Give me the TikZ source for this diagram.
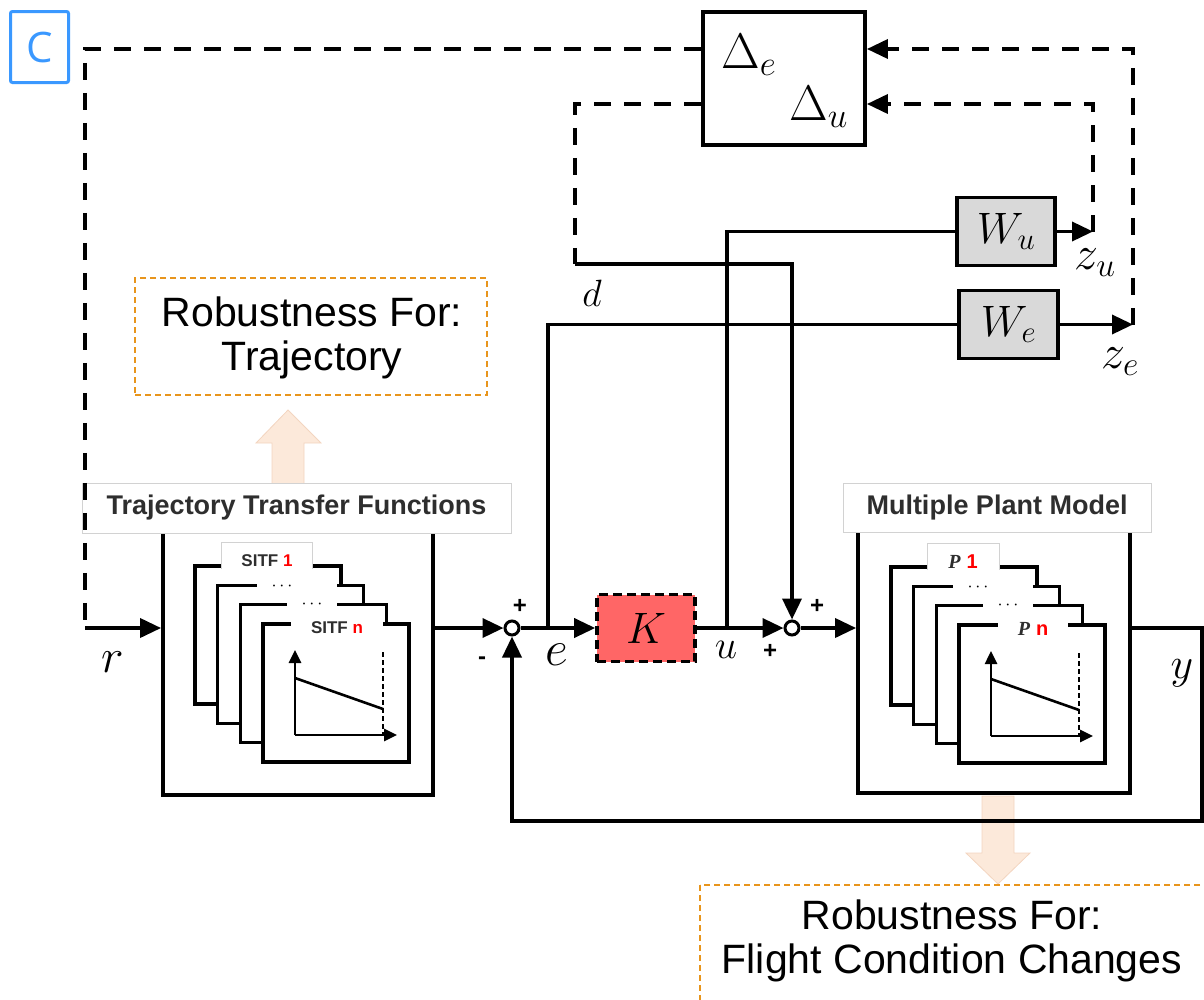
\RequirePackage{fix-cm}
\documentclass[tikz,border=0pt]{standalone}
\usepackage[no-math]{fontspec}
\newfontfamily\arialf{Liberation Sans}
\newfontfamily\timesf{Liberation Serif}
\newfontfamily\opensf{Open Sans}
\usetikzlibrary{arrows.meta}

\definecolor{cblue}{HTML}{3A98FF}
\definecolor{kred}{HTML}{FF6666}
\definecolor{wfill}{HTML}{D9D9D9}
\definecolor{robor}{HTML}{E8951C}
\definecolor{peach}{HTML}{FCE9DA}
\definecolor{peachline}{HTML}{F3D5C0}
\definecolor{txtgray}{HTML}{2E2E2E}
\definecolor{tred}{HTML}{FF0000}

\tikzset{
  sig/.style={line width=3.6pt},
  arr/.style={-{Triangle[length=21pt,width=19pt]}},
  dsh/.style={line width=3.6pt,dash pattern=on 17pt off 13pt},
  blk/.style={draw,line width=3.8pt,inner sep=0pt},
  wbox/.style={blk,fill=wfill,minimum width=98pt,minimum height=68pt,font=\fontsize{44}{44}\selectfont},
  sumpt/.style={circle,draw,fill=white,line width=3pt,minimum size=14pt,inner sep=0pt},
  stk/.style={draw,fill=white,line width=3.3pt},
  plt/.style={line width=2.6pt},
  ptip/.style={-{Triangle[length=13pt,width=12pt]}},
  rob/.style={draw=robor,line width=2.2pt,dash pattern=on 6pt off 4pt},
  robtxt/.style={align=center,inner sep=0pt,font=\arialf\fontsize{41}{44}\selectfont},
  ttl/.style={draw=gray!35,line width=1pt,fill=white,inner sep=0pt,
    font=\arialf\bfseries\fontsize{27}{27}\selectfont,text=txtgray},
  tab/.style={inner sep=0pt,text=txtgray,font=\fontsize{17}{17}\selectfont},
  tabn/.style={fill=white,inner xsep=20pt,minimum height=20pt,text=txtgray,font=\fontsize{17}{17}\selectfont},
  dotlab/.style={inner sep=0pt,font=\fontsize{18}{18}\selectfont},
  sgn/.style={inner sep=0pt,font=\arialf\bfseries\fontsize{24}{24}\selectfont},
  mlab/.style={inner sep=0pt},
}

% a stack of four overlapping model cards with a small plot on the front card
% #1,#2: top-left corner of the rear card; #3: half width of its tab;
% #4: tab text of the rear card; #5: tab text of the front card
\newcommand\drawstack[5]{%
  \begin{scope}[shift={(#1,#2)}]
    \draw[stk] (0,0) rectangle (146,138);
    \fill[white] (72-#3,-24) rectangle (72+#3,4);
    \draw[gray!35,line width=0.9pt] (72-#3,3) |- (72+#3,-24) -- (72+#3,3);
    \node[tab] at (72,-5) {#4};
    \draw[stk] (22.7,19.3) rectangle +(146,138);
    \fill[white] (62,14) rectangle (142,25);
    \node[dotlab] at (87,20) {$\cdots$};
    \draw[stk] (45.4,38.6) rectangle +(146,138);
    \fill[white] (92,33) rectangle (142,44);
    \node[dotlab] at (117,38) {$\cdots$};
    \draw[stk] (68,58) rectangle +(146,138);
    \node[tabn] at (142,62) {#5};
    \draw[plt,ptip] (100,169) -- (100,84);
    \draw[plt,ptip] (100,169) -- (202,169);
    \draw[plt] (100,112) -- (188,143);
    \draw[line width=2.2pt,dash pattern=on 5pt off 3pt] (188,86) -- (188,169);
  \end{scope}}

\begin{document}
\begin{tikzpicture}[x=1pt,y=-1pt]
\useasboundingbox (0,0) rectangle (1204,999);

% corner tag
\node[draw=cblue,line width=3pt,rounded corners=2pt,minimum width=58pt,minimum height=71pt,
  inner sep=0pt,text=cblue,font=\opensf\fontsize{42}{42}\selectfont] (tag) at (39.5,47) {C};

% wide arrows pointing to the robustness notes
\filldraw[fill=peach,draw=peachline,line width=0.8pt]
  (272,490) -- (272,443) -- (256,443) -- (288,410) -- (321,443) -- (304,443) -- (304,490) -- cycle;
\filldraw[fill=peach,draw=peachline,line width=0.8pt]
  (982,796) -- (982,853) -- (966,853) -- (998,884) -- (1030,853) -- (1014,853) -- (1014,796) -- cycle;

% robustness notes
\node[rob,minimum width=352pt,minimum height=117pt] (robA) at (311,336.5) {};
\node[robtxt] at (312,338) {Robustness For:\\Trajectory};
\draw[rob] (700,885) rectangle (1240,1040);
\node[robtxt] (robB) at (952,941) {Robustness For:\\Flight Condition Changes};

% trajectory block and plant block
\node[blk,minimum width=270pt,minimum height=285pt] (sitf) at (298,652.5) {};
\node[blk,minimum width=272pt,minimum height=283pt] (plant) at (994,651.5) {};
\node[ttl,minimum width=429pt,minimum height=50pt] (sitft) at (296.5,508) {Trajectory Transfer Functions};
\node[ttl,minimum width=308pt,minimum height=49pt] (plantt) at (997,507.5) {Multiple Plant Model};

\drawstack{195}{566}{45.5}{\arialf\bfseries SITF \textcolor{tred}{1}}{\arialf\bfseries SITF \textcolor{tred}{n}}
\drawstack{891}{567}{36}{\fontsize{20}{20}\selectfont{\timesf\bfseries\itshape P}\ \textcolor{tred}{\arialf\bfseries 1}}%
  {\fontsize{20}{20}\selectfont{\timesf\bfseries\itshape P}\ \textcolor{tred}{\arialf\bfseries n}}

% uncertainty block, weights, controller and summing points
\node[blk,fill=white,minimum width=162pt,minimum height=133pt] (delta) at (784,78.5) {};
\node[wbox] (wu) at (1006,231.5) {$W_u$};
\node[wbox,minimum width=99pt] (we) at (1008.5,324.5) {$W_e$};
\node[blk,fill=kred,line width=3.6pt,dash pattern=on 9pt off 5pt,minimum width=98pt,minimum height=67pt,
  font=\fontsize{44}{44}\selectfont] (K) at (646,628) {$K$};
\node[sumpt] (sum1) at (512,628) {};
\node[sumpt] (sum2) at (792,628) {};

% junction and corner points
\coordinate (tl) at (85,49);
\coordinate (rin) at (85,628);
\coordinate (eb) at (548,628);
\coordinate (ub) at (727,628);
\coordinate (dl) at (575,104);
\coordinate (dc) at (575,264);
\coordinate (dr) at (792,264);
\coordinate (zu) at (1093,231.5);
\coordinate (zut) at (1093,104);
\coordinate (ze) at (1133,324.5);
\coordinate (zet) at (1133,49);
\coordinate (yr) at (1202,628);
\coordinate (ycorner) at (1202,821);

% uncertainty loop (dashed)
\draw[dsh] (delta.west |- tl) -- (tl) -- (rin);
\draw[sig,arr] (rin) -- (rin -| sitf.west);
\draw[dsh] (delta.west |- dl) -- (dl) -- (dc);
\draw[sig,arr] (dc) -- (dr) -- (sum2.north);
\draw[sig,arr] (wu.east) -- (zu);
\draw[dsh,arr] (zu) -- (zut) -- (delta.east |- zut);
\draw[sig,arr] (we.east) -- (ze);
\draw[dsh,arr] (ze) -- (zet) -- (delta.east |- zet);

% main loop
\draw[sig,arr] (sitf.east |- sum1) -- (sum1.west);
\draw[sig,arr] (sum1.east) -- (K.west);
\draw[sig] (eb) |- (we.west);
\draw[sig,arr] (K.east) -- (sum2.west);
\draw[sig] (ub) |- (wu.west);
\draw[sig,arr] (sum2.east) -- (plant.west |- sum2);
\draw[sig,arr] (plant.east |- sum2) -- (yr) -- (ycorner) -| (sum1.south);

% signal names
\node[mlab,anchor=base west,font=\fontsize{50}{50}\selectfont] at (721,68) {$\Delta_e$};
\node[mlab,anchor=base west,font=\fontsize{50}{50}\selectfont] at (789,120) {$\Delta_u$};
\node[mlab,font=\fontsize{48}{48}\selectfont] at (1095,263) {$z_u$};
\node[mlab,font=\fontsize{48}{48}\selectfont] at (1120,362) {$z_e$};
\node[mlab,font=\fontsize{38}{38}\selectfont] at (592,293) {$d$};
\node[mlab,font=\fontsize{50}{50}\selectfont] at (557,655) {$e$};
\node[mlab,font=\fontsize{40}{40}\selectfont] at (726,650) {$u$};
\node[mlab,font=\fontsize{48}{48}\selectfont] at (113,662) {$r$};
\node[mlab,font=\fontsize{44}{44}\selectfont] at (1182,673) {$y$};

% signs at the summing points
\node[sgn] at (520,606) {+};
\node[sgn] at (482,661) {-};
\node[sgn] at (817,606) {+};
\node[sgn] at (770,651) {+};
\end{tikzpicture}
\end{document}
